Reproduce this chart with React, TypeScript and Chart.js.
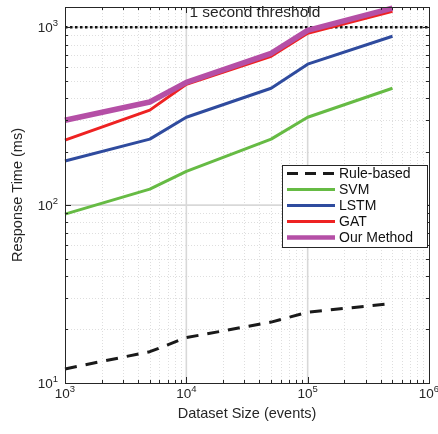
import React, { useEffect, useRef } from "react";
import { Chart, registerables } from "chart.js";

Chart.register(...registerables);

const datasetSizes = [1000, 5000, 10000, 50000, 100000, 500000];
const ruleBased = [12, 15, 18, 22, 25, 28];
const svm = [89, 123, 155, 235, 312, 454];
const lstm = [177, 235, 312, 454, 620, 890];
const gat = [232, 342, 478, 687, 925, 1230];
const ourMethod = [300, 380, 490, 714, 960, 1280];

const seriesLabels = ["Rule-based", "SVM", "LSTM", "GAT", "Our Method"];
const seriesColors = ["#1a1a1a", "#66bb44", "#2f4b9e", "#ee2222", "#b54fa6"];
const seriesWidths = [3, 3, 3, 3, 5.5];
const seriesDash: number[][] = [[12, 9], [], [], [], []];

const thresholdValue = 1000;
const thresholdLabel = "1 second threshold";
const xTitle = "Dataset Size (events)";
const yTitle = "Response Time (ms)";
const xMin = 1000, xMax = 1000000, yMin = 10, yMax = 1300;

const FONT = '"Liberation Sans", Arial, Helvetica, sans-serif';
const SUP: Record<string, string> = {};

function drawPow(ctx: CanvasRenderingContext2D, exp: number, x: number, y: number, align: "right" | "center") {
  ctx.save();
  ctx.fillStyle = "#262626";
  ctx.textBaseline = "middle";
  ctx.textAlign = "left";
  ctx.font = `13.5px ${FONT}`;
  const wb = ctx.measureText("10").width;
  ctx.font = `9.5px ${FONT}`;
  const we = ctx.measureText(String(exp)).width;
  const total = wb + we;
  const start = align === "right" ? x - total : x - total / 2;
  ctx.font = `13.5px ${FONT}`;
  ctx.fillText("10", start, y + 1);
  ctx.font = `9.5px ${FONT}`;
  ctx.fillText(String(exp), start + wb, y - 4);
  ctx.restore();
}

const decorPlugin = {
  id: "decor",
  beforeDatasetsDraw(chart: any) {
    const { ctx, chartArea: a, scales } = chart;
    const xs = scales.x, ys = scales.y;
    ctx.save();
    // minor grid
    ctx.strokeStyle = "#dedede";
    ctx.lineWidth = 1;
    ctx.setLineDash([1, 2]);
    for (let d = 3; d < 6; d++) {
      for (let m = 2; m <= 9; m++) {
        const px = Math.round(xs.getPixelForValue(m * Math.pow(10, d))) + 0.5;
        ctx.beginPath(); ctx.moveTo(px, a.top); ctx.lineTo(px, a.bottom); ctx.stroke();
      }
    }
    for (let d = 1; d < 4; d++) {
      for (let m = 2; m <= 9; m++) {
        const v = m * Math.pow(10, d);
        if (v > yMax) continue;
        const py = Math.round(ys.getPixelForValue(v)) + 0.5;
        ctx.beginPath(); ctx.moveTo(a.left, py); ctx.lineTo(a.right, py); ctx.stroke();
      }
    }
    // major grid
    ctx.setLineDash([]);
    ctx.strokeStyle = "#d8d8d8";
    ctx.lineWidth = 1.6;
    [10000, 100000].forEach((v) => {
      const px = xs.getPixelForValue(v);
      ctx.beginPath(); ctx.moveTo(px, a.top); ctx.lineTo(px, a.bottom); ctx.stroke();
    });
    [100, 1000].forEach((v) => {
      const py = ys.getPixelForValue(v);
      ctx.beginPath(); ctx.moveTo(a.left, py); ctx.lineTo(a.right, py); ctx.stroke();
    });
    ctx.restore();
  },
  afterDatasetsDraw(chart: any) {
    const { ctx, chartArea: a, scales } = chart;
    const xs = scales.x, ys = scales.y;
    ctx.save();
    // border
    ctx.strokeStyle = "#262626";
    ctx.lineWidth = 1;
    ctx.strokeRect(Math.round(a.left) + 0.5, Math.round(a.top) + 0.5, Math.round(a.right - a.left), Math.round(a.bottom - a.top));
    // ticks inside
    ctx.beginPath();
    for (let d = 3; d <= 6; d++) {
      for (let m = 1; m <= 9; m++) {
        const v = m * Math.pow(10, d);
        if (v > xMax) break;
        const len = m === 1 ? 6 : 3;
        const px = Math.round(xs.getPixelForValue(v)) + 0.5;
        ctx.moveTo(px, a.bottom); ctx.lineTo(px, a.bottom - len);
        ctx.moveTo(px, a.top); ctx.lineTo(px, a.top + len);
      }
    }
    for (let d = 1; d <= 3; d++) {
      for (let m = 1; m <= 9; m++) {
        const v = m * Math.pow(10, d);
        if (v > yMax) break;
        const len = m === 1 ? 6 : 3;
        const py = Math.round(ys.getPixelForValue(v)) + 0.5;
        ctx.moveTo(a.left, py); ctx.lineTo(a.left + len, py);
        ctx.moveTo(a.right, py); ctx.lineTo(a.right - len, py);
      }
    }
    ctx.stroke();
    // tick labels
    [1, 2, 3].forEach((e) => drawPow(ctx, e, a.left - 7, ys.getPixelForValue(Math.pow(10, e)), "right"));
    [3, 4, 5, 6].forEach((e) => drawPow(ctx, e, xs.getPixelForValue(Math.pow(10, e)), a.bottom + 10, "center"));
    // titles
    ctx.fillStyle = "#262626";
    ctx.font = `14.5px ${FONT}`;
    ctx.textAlign = "center";
    ctx.textBaseline = "middle";
    ctx.fillText(xTitle, (a.left + a.right) / 2, a.bottom + 31);
    ctx.save();
    ctx.translate(18, (a.top + a.bottom) / 2);
    ctx.rotate(-Math.PI / 2);
    ctx.fillText(yTitle, 0, 0);
    ctx.restore();
    // threshold label
    ctx.font = `15.5px ${FONT}`;
    ctx.fillText(thresholdLabel, xs.getPixelForValue(Math.pow(10, 4.565)), ys.getPixelForValue(1205));
    // legend
    const lx = 282, ly = 165, lw = 145, lh = 82;
    ctx.fillStyle = "#ffffff";
    ctx.fillRect(lx, ly, lw, lh);
    ctx.strokeStyle = "#262626";
    ctx.lineWidth = 1;
    ctx.strokeRect(lx + 0.5, ly + 0.5, lw, lh);
    ctx.font = `14px ${FONT}`;
    ctx.textAlign = "left";
    seriesLabels.forEach((lab, i) => {
      const y = ly + 8.5 + i * 16;
      ctx.save();
      ctx.strokeStyle = seriesColors[i];
      ctx.lineWidth = seriesWidths[i] > 4 ? 4.5 : 3;
      ctx.setLineDash(i === 0 ? [11, 7] : []);
      ctx.beginPath(); ctx.moveTo(lx + 5, y); ctx.lineTo(lx + 53, y); ctx.stroke();
      ctx.restore();
      ctx.fillStyle = "#111111";
      ctx.fillText(lab, lx + 57, y + 0.5);
    });
    ctx.restore();
  },
};

export default function App() {
  const ref = useRef<HTMLCanvasElement | null>(null);
  useEffect(() => {
    if (!ref.current) return;
    const series = [ruleBased, svm, lstm, gat, ourMethod];
    const datasets: any[] = series.map((vals, i) => ({
      label: seriesLabels[i],
      data: datasetSizes.map((x, j) => ({ x, y: vals[j] })),
      borderColor: seriesColors[i],
      backgroundColor: seriesColors[i],
      borderWidth: seriesWidths[i],
      borderDash: seriesDash[i],
      pointRadius: 0,
      tension: 0,
      borderJoinStyle: "round",
      clip: false,
      order: 5 - i,
    }));
    datasets.push({
      label: "threshold",
      data: [{ x: xMin, y: thresholdValue }, { x: xMax, y: thresholdValue }],
      borderColor: "#111111",
      borderWidth: 2.5,
      borderDash: [2.5, 2.5],
      pointRadius: 0,
      order: 6,
    });
    const chart = new Chart(ref.current, {
      type: "line",
      data: { datasets },
      options: {
        responsive: false,
        animation: false,
        devicePixelRatio: 1,
        layout: { padding: { left: 65, right: 9, top: 7, bottom: 51 } },
        plugins: { legend: { display: false }, tooltip: { enabled: false } },
        scales: {
          x: { type: "logarithmic", min: xMin, max: xMax, display: false },
          y: { type: "logarithmic", min: yMin, max: yMax, display: false },
        },
      },
      plugins: [decorPlugin],
    });
    return () => chart.destroy();
  }, []);
  return (
    <div style={{ position: "fixed", left: 0, top: 0, width: 438, height: 434, background: "#fff" }}>
      <canvas ref={ref} width={438} height={434} style={{ display: "block" }} />
    </div>
  );
}
